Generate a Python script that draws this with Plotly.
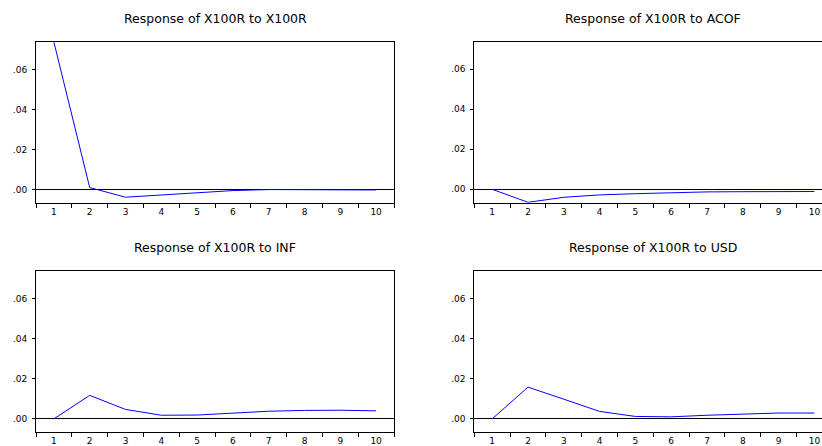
import plotly.graph_objects as go

periods = ["1", "2", "3", "4", "5", "6", "7", "8", "9", "10"]
resp_x100r = [0.0736, 0.0010, -0.0038, -0.0027, -0.0015, -0.0005, 0.0000, 0.0000, 0.0000, -0.0002]
resp_acof = [0.0000, -0.0065, -0.0040, -0.0028, -0.0022, -0.0017, -0.0013, -0.0012, -0.0011, -0.0011]
resp_inf = [0.0000, 0.0117, 0.0047, 0.0018, 0.0019, 0.0030, 0.0038, 0.0042, 0.0043, 0.0040]
resp_usd = [0.0000, 0.0158, 0.0098, 0.0037, 0.0012, 0.0010, 0.0018, 0.0025, 0.0029, 0.0029]
titles = ["Response of X100R to X100R", "Response of X100R to ACOF",
          "Response of X100R to INF", "Response of X100R to USD"]
ytick_vals = [0.00, 0.02, 0.04, 0.06]
ytick_text = [".00", ".02", ".04", ".06"]
y_range = [-0.0067, 0.07365]

W, H = 822, 446
series = [resp_x100r, resp_acof, resp_inf, resp_usd]

# panel boxes in pixels: (left, right_full, top, bottom)
boxes = [(36, 394, 42, 203), (474.3, 832.3, 42, 202.7),
         (36, 394, 271, 432.3), (474.3, 832.3, 271, 432.3)]
title_y = [18.3, 18.3, 247.3, 247.3]

fig = go.Figure()
tickfont = dict(family="DejaVu Sans", size=9, color="black")
for i, (vals, (l, r, t, b)) in enumerate(zip(series, boxes)):
    n = i + 1
    xa = "x" if n == 1 else f"x{n}"
    ya = "y" if n == 1 else f"y{n}"
    fig.add_trace(go.Scatter(x=periods, y=vals, mode="lines",
                             line=dict(color="#0000FF", width=1),
                             xaxis=xa, yaxis=ya, showlegend=False,
                             cliponaxis=True))
    visible_r = min(r, W)
    step = (r - l) / len(periods)
    xmax = -0.5 + (visible_r - l) / step
    dom_x = [l / W, visible_r / W]
    dom_y = [1 - b / H, 1 - t / H]
    key_x = "xaxis" if n == 1 else f"xaxis{n}"
    key_y = "yaxis" if n == 1 else f"yaxis{n}"
    fig.update_layout(**{
        key_x: dict(domain=dom_x, anchor=ya, type="category",
                    categoryorder="array", categoryarray=periods,
                    range=[-0.5, xmax], tickson="boundaries",
                    ticks="outside", ticklen=4, tickwidth=1, tickcolor="black",
                    showline=True, linecolor="black", linewidth=1, mirror=True,
                    showgrid=False, zeroline=False, tickfont=tickfont,
                    fixedrange=True),
        key_y: dict(domain=dom_y, anchor=xa, range=y_range,
                    tickvals=ytick_vals, ticktext=ytick_text,
                    ticks="outside", ticklen=3, tickwidth=1, tickcolor="black",
                    ticklabelstandoff=3,
                    showline=True, linecolor="black", linewidth=1,
                    mirror=(r <= W),
                    showgrid=False, zeroline=True, zerolinecolor="black",
                    zerolinewidth=1, tickfont=tickfont, fixedrange=True),
    })
    fig.add_annotation(text=titles[i], xref="paper", yref="paper",
                       x=((l + r) / 2) / W, y=1 - title_y[i] / H,
                       xanchor="center", yanchor="middle", showarrow=False,
                       font=dict(family="DejaVu Sans", size=12.5, color="black"))

fig.update_layout(width=W, height=H, margin=dict(l=0, r=0, t=0, b=0),
                  paper_bgcolor="white", plot_bgcolor="white")
fig.write_html("out.html")
